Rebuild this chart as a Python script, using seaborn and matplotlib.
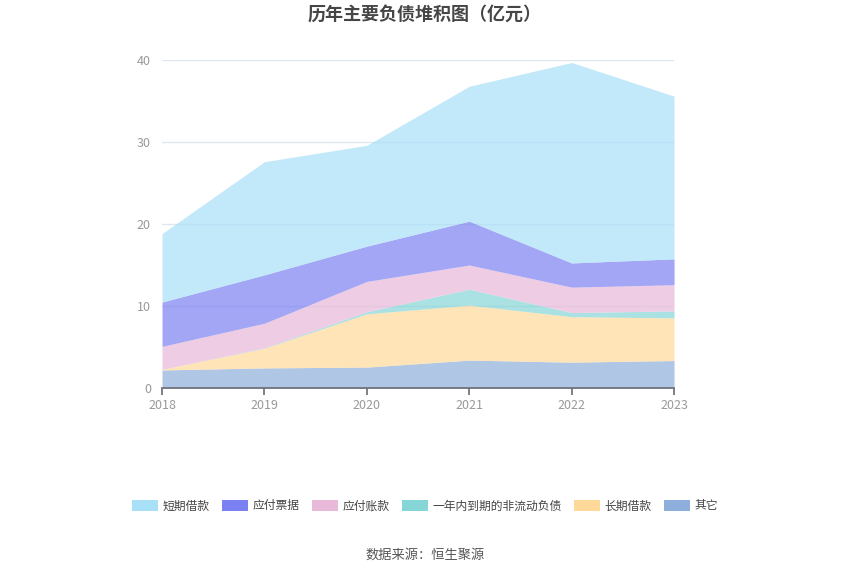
import matplotlib
matplotlib.use("Agg")
import matplotlib.pyplot as plt
import matplotlib.patches as mpatches
import seaborn as sns
import pandas as pd

# data (亿元)
years = [2018, 2019, 2020, 2021, 2022, 2023]
qita = [2.2, 2.45, 2.55, 3.4, 3.15, 3.35]
changqi = [0.08, 2.4, 6.5, 6.7, 5.55, 5.2]
yinian = [0.0, 0.05, 0.25, 1.95, 0.5, 0.85]
yingfu_zk = [2.8, 3.0, 3.7, 2.95, 3.1, 3.2]
yingfu_pj = [5.4, 5.9, 4.3, 5.35, 2.95, 3.15]
duanqi = [8.35, 13.8, 12.3, 16.45, 24.45, 19.85]

names = ["短期借款", "应付票据", "应付账款", "一年内到期的非流动负债", "长期借款", "其它"]
colors = ["#a8e0f8", "#7b80f2", "#e8b9d9", "#86d5d7", "#ffd99a", "#8eaedb"]

df = pd.DataFrame({
    "其它": qita,
    "长期借款": changqi,
    "一年内到期的非流动负债": yinian,
    "应付账款": yingfu_zk,
    "应付票据": yingfu_pj,
    "短期借款": duanqi,
}, index=years)

sns.set_theme(style="white")
plt.rcParams['font.family'] = ['Noto Sans CJK SC', 'DejaVu Sans']

fig = plt.figure(figsize=(8.5, 5.75), dpi=100)
ax = fig.add_axes([0.1906, 0.3252, 0.6024, 0.5704])

order = ["其它", "长期借款", "一年内到期的非流动负债", "应付账款", "应付票据", "短期借款"]
cmap = dict(zip(names, colors))
ax.stackplot(df.index, [df[c] for c in order], colors=[cmap[c] for c in order],
             alpha=0.7, linewidth=0, zorder=2)

ax.set_xlim(2018, 2023)
ax.set_ylim(0, 40)
ax.set_yticks([0, 10, 20, 30, 40])
ax.set_xticks(years)
ax.yaxis.grid(True, color="#e0e6f1", linewidth=1)
ax.set_axisbelow(True)
for s in ["top", "right", "left"]:
    ax.spines[s].set_visible(False)
ax.spines["bottom"].set_color("#6e7079")
ax.spines["bottom"].set_zorder(4)
ax.tick_params(axis="x", length=5, color="#6e7079", colors="#999999", labelsize=9, pad=3, bottom=True)
ax.tick_params(axis="y", length=0, colors="#999999", labelsize=9, pad=8)

fig.text(0.5, 0.975, "历年主要负债堆积图（亿元）", ha="center", va="center",
         fontsize=13, fontweight="bold", color="#464646")
fig.text(0.5, 0.035, "数据来源：恒生聚源", ha="center", va="center",
         fontsize=9.5, color="#555555")

handles = [mpatches.FancyBboxPatch((0, 0), 1, 1, boxstyle="round,pad=0.1",
                                   facecolor=c, edgecolor="none") for c in colors]
fig.legend(handles, names, loc="center", bbox_to_anchor=(0.5, 0.12), ncol=6,
           frameon=False, fontsize=8.5, handlelength=2.2, handleheight=1.1,
           handletextpad=0.4, columnspacing=1.05, labelcolor="#444444")

fig.savefig("out.png", dpi=100)
